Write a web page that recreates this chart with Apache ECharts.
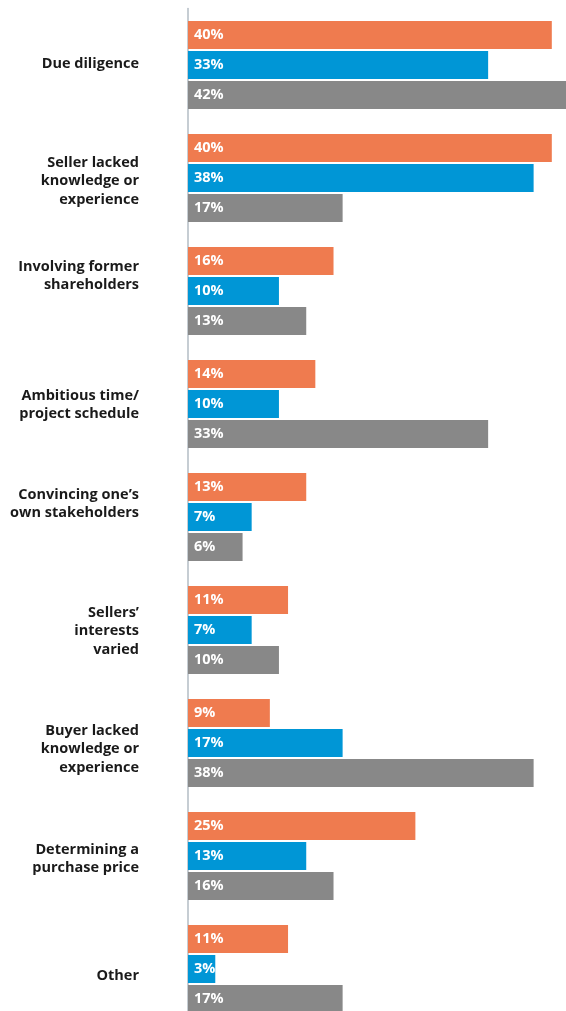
<!DOCTYPE html>
<html>
<head>
<meta charset="utf-8">
<script src="https://cdn.jsdelivr.net/npm/echarts@6/dist/echarts.min.js"></script>
<style>
html,body{margin:0;padding:0;background:#fff;overflow:hidden;}
#chart{width:570px;height:1030px;}
</style>
</head>
<body>
<div id="chart"></div>
<script>
var categories = [
  "Due diligence",
  "Seller lacked\nknowledge or\nexperience",
  "Involving former\nshareholders",
  "Ambitious time/\nproject schedule",
  "Convincing one\u2019s\nown stakeholders",
  "Sellers\u2019\ninterests\nvaried",
  "Buyer lacked\nknowledge or\nexperience",
  "Determining a\npurchase price",
  "Other"
];
var seriesOrange = [40, 40, 16, 14, 13, 11, 9, 25, 11];
var seriesBlue   = [33, 38, 10, 10, 7, 7, 17, 13, 3];
var seriesGray   = [42, 17, 13, 33, 6, 10, 38, 16, 17];

var colors = ["#EF7B4F", "#0096D6", "#888888"];
var fontFam = "'Open Sans', 'Noto Sans', sans-serif";

// vertical nudges of the category labels (style only, px; + = down)
var labelNudge = [-1, 3, -15, 1, -13, 1, 6, 3, 7];

var baseLabel = {
  color: '#1a1a1a',
  fontWeight: 'bold',
  fontSize: 14.5,
  lineHeight: 18.5,
  fontFamily: fontFam,
  align: 'right'
};
var rich = { n: Object.assign({}, baseLabel) };
labelNudge.forEach(function (o, i) {
  rich['s' + i] = { fontSize: 1, lineHeight: Math.max(1, 2 * Math.abs(o)), color: 'rgba(0,0,0,0)' };
});

function labelFormatter(value, index) {
  var lines = value.split('\n').map(function (ln) { return '{n|' + ln + '}'; });
  var o = labelNudge[index];
  var spacer = '{s' + index + '| }';
  if (o > 0) lines.unshift(spacer);
  else if (o < 0) lines.push(spacer);
  return lines.join('\n');
}

function makeSeries(data, color) {
  return {
    type: 'bar',
    data: data,
    barWidth: 28,
    barGap: '7%',
    itemStyle: { color: color },
    label: {
      show: true,
      position: 'insideLeft',
      distance: 6,
      formatter: '{c}%',
      color: '#ffffff',
      fontWeight: 'bold',
      fontSize: 14.5,
      fontFamily: fontFam
    },
    silent: true,
    animation: false
  };
}

var chart = echarts.init(document.getElementById('chart'));
chart.setOption({
  animation: false,
  grid: { left: 188, right: 0, top: 8.5, bottom: 4.5, containLabel: false },
  xAxis: {
    type: 'value', min: 0, max: 42,
    show: false
  },
  yAxis: {
    type: 'category',
    inverse: true,
    data: categories,
    axisLine: { show: true, lineStyle: { color: '#b3bcc5', width: 1.5 } },
    axisTick: { show: false },
    axisLabel: Object.assign({ margin: 49, formatter: labelFormatter, rich: rich }, baseLabel)
  },
  series: [
    makeSeries(seriesOrange, colors[0]),
    makeSeries(seriesBlue, colors[1]),
    makeSeries(seriesGray, colors[2])
  ]
});
</script>
</body>
</html>
